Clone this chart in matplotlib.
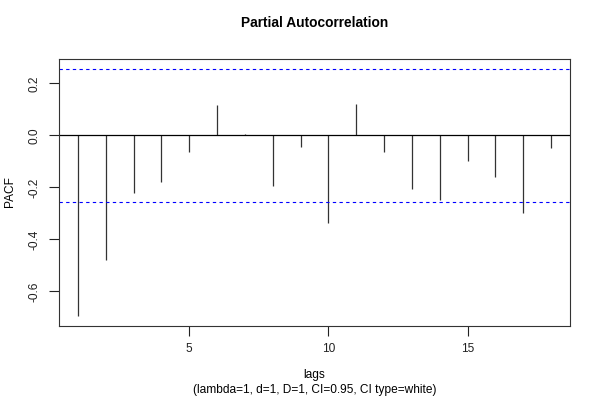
import matplotlib
matplotlib.use("Agg")
import matplotlib.pyplot as plt
import numpy as np

lags = list(range(1, 19))
pacf = [-0.695, -0.478, -0.220, -0.180, -0.064, 0.117, 0.005, -0.194, -0.044,
        -0.337, 0.119, -0.064, -0.208, -0.248, -0.100, -0.160, -0.299, -0.048]
ci = 0.2552
xticks = [5, 10, 15]
yticks = [-0.6, -0.4, -0.2, 0.0, 0.2]

plt.rcParams['font.family'] = ['Liberation Sans', 'DejaVu Sans']
fig = plt.figure(figsize=(6, 4), dpi=100)
ax = fig.add_axes([59/600, 1-326/400, (570-59)/600, (326-59)/400])

ax.vlines(lags, 0, pacf, color='#333333', linewidth=0.9)
ax.axhline(0, color='black', linewidth=0.9)
ax.axhline(ci, color='blue', linestyle=(0, (3, 3)), linewidth=0.8)
ax.axhline(-ci, color='blue', linestyle=(0, (3, 3)), linewidth=0.8)

ax.set_xlim(0.32, 18.68)
ax.set_ylim(-0.733, 0.2935)
ax.set_xticks(xticks)
ax.set_xticklabels([str(t) for t in xticks])
ax.set_yticks(yticks)
ax.set_yticklabels([f"{t:.1f}" for t in yticks], rotation=90, va='center')
ax.tick_params(direction='out', length=7, width=0.8, labelsize=8.6, pad=5, colors='#222222')
ax.tick_params(axis='y', pad=6)
for s in ax.spines.values():
    s.set_linewidth(0.8)
    s.set_color('#333333')

fig.text(314.5/600, 1-23/400, "Partial Autocorrelation", ha='center', va='center',
         fontsize=9.9, fontweight='bold')
fig.text(314.5/600, 1-375/400, "lags", ha='center', va='center', fontsize=8.6)
fig.text(314.5/600, 1-390/400, "(lambda=1, d=1, D=1, CI=0.95, CI type=white)", ha='center',
         va='center', fontsize=8.6)
fig.text(10/600, 1-192/400, "PACF", ha='center', va='center', rotation=90, fontsize=8.6)

fig.savefig("out.png", dpi=100)
